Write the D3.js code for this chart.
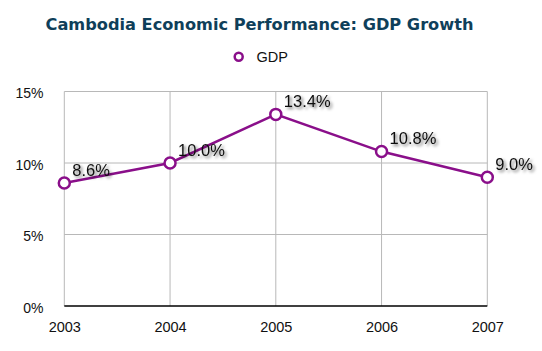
<html>
  <meta charset="utf-8" />
  <script src="https://d3js.org/d3.v7.min.js"></script>
  <body style="margin:0;background:#fff">
    <svg width="542" height="351" id="chart"></svg>
    <script>
      const years = ["2003", "2004", "2005", "2006", "2007"];
      const gdp = [8.6, 10.0, 13.4, 10.8, 9.0];
      const yTicks = [0, 5, 10, 15];

      const plotLeft = 64.3, plotRight = 487.3, plotTop = 91.5, plotBottom = 306;
      const purple = "#8a0f8a";
      const font = "Liberation Sans, Arial, sans-serif";

      const svg = d3.select("#chart");

      const defs = svg.append("defs");
      const f = defs.append("filter").attr("id", "shadow")
        .attr("x", "-20%").attr("y", "-40%").attr("width", "150%").attr("height", "200%");
      f.append("feDropShadow").attr("dx", 2).attr("dy", 2)
        .attr("stdDeviation", 1.5).attr("flood-color", "#000").attr("flood-opacity", 0.55);

      const x = d3.scalePoint().domain(years).range([plotLeft, plotRight]);
      const y = d3.scaleLinear().domain([0, 15]).range([plotBottom, plotTop]);

      // grid
      const grid = svg.append("g").attr("stroke", "#b8b8b8").attr("stroke-width", 1);
      grid.selectAll(".h").data(yTicks.filter((d) => d > 0)).enter()
        .append("line")
        .attr("x1", plotLeft).attr("x2", plotRight)
        .attr("y1", (d) => y(d)).attr("y2", (d) => y(d));
      grid.selectAll(".v").data(years).enter()
        .append("line")
        .attr("x1", (d) => x(d)).attr("x2", (d) => x(d))
        .attr("y1", plotTop).attr("y2", plotBottom);

      // axes
      const yAxis = svg.append("g")
        .attr("transform", `translate(43.5,0)`)
        .call(d3.axisLeft(y).tickValues(yTicks).tickSize(0).tickFormat((d) => d + "%"));
      yAxis.select(".domain").remove();
      yAxis.selectAll("text")
        .attr("font-family", font)
        .attr("font-size", 14).attr("fill", "#111").attr("dy", "0.45em").attr("x", 0);

      const xAxis = svg.append("g")
        .attr("transform", `translate(0,${plotBottom})`)
        .call(d3.axisBottom(x).tickSize(0));
      xAxis.select(".domain").attr("stroke", "#000").attr("stroke-width", 1.5)
        .attr("d", `M${plotLeft},0H${plotRight}`);
      xAxis.selectAll("text")
        .attr("font-family", font)
        .attr("font-size", 14.5).attr("fill", "#111")
        .attr("y", 26).attr("dy", 0);

      // line
      const line = d3.line().x((d, i) => x(years[i])).y((d) => y(d));
      svg.append("path").datum(gdp)
        .attr("d", line).attr("fill", "none")
        .attr("stroke", purple).attr("stroke-width", 2.5);

      svg.selectAll(".pt").data(gdp).enter()
        .append("circle")
        .attr("cx", (d, i) => x(years[i])).attr("cy", (d) => y(d))
        .attr("r", 5.5).attr("fill", "#fff")
        .attr("stroke", purple).attr("stroke-width", 2.5);

      svg.selectAll(".lbl").data(gdp).enter()
        .append("text")
        .attr("x", (d, i) => x(years[i]) + 8).attr("y", (d) => y(d) - 7.5)
        .attr("font-family", font)
        .attr("font-size", 16.5).attr("fill", "#111")
        .attr("filter", "url(#shadow)")
        .text((d) => d.toFixed(1) + "%");

      // title
      svg.append("text")
        .attr("x", 259.5).attr("y", 30).attr("text-anchor", "middle")
        .attr("font-family", "DejaVu Sans, Verdana, sans-serif")
        .attr("font-weight", "bold").attr("font-size", 16.2)
        .attr("fill", "#0f3f5a")
        .text("Cambodia Economic Performance: GDP Growth");

      // legend
      svg.append("circle").attr("cx", 238.7).attr("cy", 56.7).attr("r", 4)
        .attr("fill", "#fff").attr("stroke", purple).attr("stroke-width", 2.5);
      svg.append("text").attr("x", 256.5).attr("y", 62)
        .attr("font-family", font)
        .attr("font-size", 14.5).attr("fill", "#111").text("GDP");
    </script>
  </body>
</html>
